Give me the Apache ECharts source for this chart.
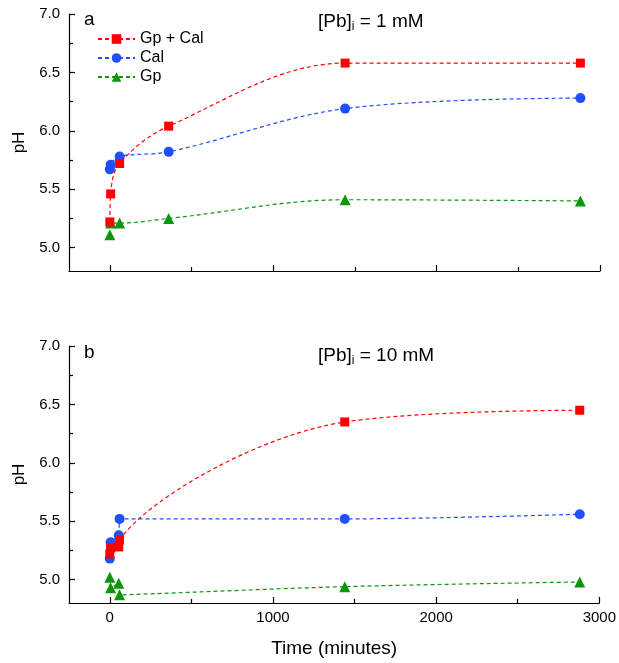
<!DOCTYPE html>
<html>
<head>
<meta charset="utf-8">
<script src="https://cdn.jsdelivr.net/npm/echarts@6/dist/echarts.min.js"></script>
<style>
  html, body { margin: 0; padding: 0; background: #fff; }
  #chart { width: 619px; height: 663px; }
</style>
</head>
<body>
<div id="chart"></div>
<script>
// time points (minutes)
const timesTop = [0, 5, 60, 360, 1440, 2880]
const timesBottom = [0, 5, 55, 60, 1440, 2880]

// panel a, [Pb]i = 1 mM
const gpCalTop = [5.22, 5.46, 5.72, 6.04, 6.58, 6.58]
const calTop = [5.67, 5.71, 5.78, 5.82, 6.19, 6.28]
const gpTop = [5.11, 5.21, 5.21, 5.25, 5.41, 5.40]

// panel b, [Pb]i = 10 mM
const gpCalBottom = [5.22, 5.27, 5.28, 5.34, 6.35, 6.45]
const calBottom = [5.18, 5.32, 5.38, 5.52, 5.52, 5.56]
const gpBottom = [5.02, 4.93, 4.97, 4.87, 4.94, 4.98]

const xTicks = [0, 1000, 2000, 3000]
const xMinorTicks = [500, 1500, 2500]
const yTicks = [5.0, 5.5, 6.0, 6.5, 7.0]
const yMinorTicks = [5.25, 5.75, 6.25, 6.75]

const seriesNames = ['Gp + Cal', 'Cal', 'Gp']
const colors = ['#ff0000', '#1f4fff', '#0c960c']
const symbols = ['rect', 'circle', 'triangle']
const symbolSizes = [9, 10, 11]

const font = 'Liberation Sans, Arial, sans-serif'
const axisColor = '#000'

function pairs(xs, ys) {
  return xs.map((x, i) => [x, ys[i]])
}

function makeX(gridIndex, showLabel) {
  const base = {
    type: 'value', gridIndex: gridIndex, min: -250, max: 3000,
    position: 'bottom', offset: 0,
    splitLine: { show: false }
  }
  return [
    Object.assign({}, base, {
      axisLine: { show: true, onZero: false, lineStyle: { color: axisColor, width: 1.2 } },
      axisTick: { show: true, inside: true, length: 6, customValues: xTicks, lineStyle: { color: axisColor, width: 1.2 } },
      axisLabel: { show: showLabel, customValues: xTicks, color: '#000', fontSize: 15, fontFamily: font, margin: 7,
        formatter: v => String(v) },
      name: showLabel ? 'Time (minutes)' : '',
      nameLocation: 'middle', nameGap: 36,
      nameTextStyle: { color: '#000', fontSize: 19, fontFamily: font }
    }),
    Object.assign({}, base, {
      axisLine: { show: false, onZero: false },
      axisTick: { show: true, inside: true, length: 4, customValues: xMinorTicks, lineStyle: { color: axisColor, width: 1.2 } },
      axisLabel: { show: false }
    })
  ]
}

function makeY(gridIndex) {
  const base = {
    type: 'value', gridIndex: gridIndex, min: 4.8, max: 7.0,
    position: 'left', offset: 0,
    splitLine: { show: false }
  }
  return [
    Object.assign({}, base, {
      axisLine: { show: true, onZero: false, lineStyle: { color: axisColor, width: 1.2 } },
      axisTick: { show: true, inside: true, length: 6, customValues: yTicks, lineStyle: { color: axisColor, width: 1.2 } },
      axisLabel: { customValues: yTicks, color: '#000', fontSize: 15, fontFamily: font, margin: 9,
        formatter: v => v.toFixed(1) },
      name: 'pH', nameLocation: 'middle', nameGap: 30,
      nameTextStyle: { color: '#000', fontSize: 17, fontFamily: font }
    }),
    Object.assign({}, base, {
      axisLine: { show: false, onZero: false },
      axisTick: { show: true, inside: true, length: 4, customValues: yMinorTicks, lineStyle: { color: axisColor, width: 1.2 } },
      axisLabel: { show: false }
    })
  ]
}

function makeSeries(xIdx, yIdx, times, lists) {
  return lists.map((vals, i) => ({
    name: seriesNames[i],
    type: 'line',
    xAxisIndex: xIdx,
    yAxisIndex: yIdx,
    smooth: 0.35,
    symbol: symbols[i],
    symbolSize: symbolSizes[i],
    itemStyle: { color: colors[i] },
    lineStyle: { color: colors[i], width: 1.2, type: [4, 3] },
    z: 10 - i,
    data: pairs(times, vals)
  }))
}

const titleRich = {
  sub: { fontSize: 12, fontFamily: font, color: '#000', verticalAlign: 'bottom', padding: [10, 0, 0, 0] }
}

const option = {
  animation: false,
  backgroundColor: '#fff',
  grid: [
    { left: 69, top: 14, width: 531, height: 257 },
    { left: 69, top: 346, width: 531, height: 257 }
  ],
  title: [
    { text: 'a', left: 79, top: 5, textStyle: { fontSize: 19, fontWeight: 'normal', fontFamily: font, color: '#000' } },
    { text: '[Pb]{sub|i} = 1 mM', left: 313, top: 6,
      textStyle: { fontSize: 19, fontWeight: 'normal', fontFamily: font, color: '#000', rich: titleRich } },
    { text: 'b', left: 79, top: 338, textStyle: { fontSize: 19, fontWeight: 'normal', fontFamily: font, color: '#000' } },
    { text: '[Pb]{sub|i} = 10 mM', left: 313, top: 340,
      textStyle: { fontSize: 19, fontWeight: 'normal', fontFamily: font, color: '#000', rich: titleRich } }
  ],
  legend: {
    data: seriesNames,
    orient: 'vertical',
    left: 92, top: 26,
    itemWidth: 37, itemHeight: 12, itemGap: 3,
    textStyle: { fontSize: 16, fontFamily: font, color: '#000' }
  },
  xAxis: makeX(0, false).concat(makeX(1, true)),
  yAxis: makeY(0).concat(makeY(1)),
  series: makeSeries(0, 0, timesTop, [gpCalTop, calTop, gpTop])
    .concat(makeSeries(2, 2, timesBottom, [gpCalBottom, calBottom, gpBottom]))
}

const myChart = echarts.init(document.getElementById('chart'))
myChart.setOption(option)
</script>
</body>
</html>
